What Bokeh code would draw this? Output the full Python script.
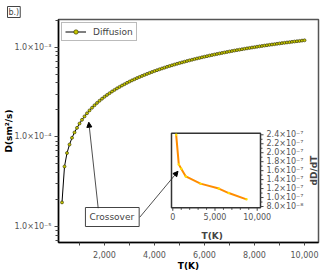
import math
from bokeh.plotting import figure
from bokeh.models import (Range1d, LinearScale, FixedTicker, CustomJSTickFormatter,
                          NumeralTickFormatter, Label, Arrow, NormalHead)
from bokeh.core.properties import value
from bokeh.embed import file_html
from bokeh.resources import INLINE

# ---------------- data ----------------
T = [300, 400, 500, 600, 700, 800, 900, 1000, 1100, 1200, 1300, 1400, 1500, 1600, 1700,
     1800, 1900, 2000, 2100, 2200, 2300, 2400, 2500, 2600, 2700, 2800, 2900, 3000, 3100,
     3200, 3300, 3400, 3500, 3600, 3700, 3800, 3900, 4000, 4100, 4200, 4300, 4400, 4500,
     4600, 4700, 4800, 4900, 5000, 5100, 5200, 5300, 5400, 5500, 5600, 5700, 5800, 5900,
     6000, 6100, 6200, 6300, 6400, 6500, 6600, 6700, 6800, 6900, 7000, 7100, 7200, 7300,
     7400, 7500, 7600, 7700, 7800, 7900, 8000, 8100, 8200, 8300, 8400, 8500, 8600, 8700,
     8800, 8900, 9000, 9100, 9200, 9300, 9400, 9500, 9600, 9700, 9800, 9900, 10000]
# diffusion coefficient in units of 1e-4
D_e4 = [0.186, 0.468, 0.661, 0.822, 0.977, 1.122, 1.262, 1.410, 1.552, 1.694, 1.835, 1.975,
        2.115, 2.254, 2.392, 2.530, 2.667, 2.803, 2.939, 3.075, 3.210, 3.345, 3.479, 3.613,
        3.746, 3.878, 4.010, 4.141, 4.272, 4.402, 4.532, 4.661, 4.790, 4.918, 5.046, 5.173,
        5.300, 5.426, 5.552, 5.677, 5.802, 5.926, 6.050, 6.173, 6.296, 6.418, 6.540, 6.661,
        6.782, 6.902, 7.022, 7.141, 7.260, 7.378, 7.496, 7.613, 7.730, 7.846, 7.961, 8.076,
        8.190, 8.304, 8.417, 8.529, 8.641, 8.752, 8.862, 8.972, 9.081, 9.189, 9.297, 9.404,
        9.510, 9.616, 9.721, 9.825, 9.929, 10.032, 10.134, 10.236, 10.337, 10.437, 10.537,
        10.636, 10.734, 10.832, 10.929, 11.025, 11.121, 11.216, 11.310, 11.404, 11.497,
        11.589, 11.681, 11.772, 11.863, 11.953]
D = [v * 1e-4 for v in D_e4]

T_inset = [400, 710, 1000, 1540, 3280, 5450, 6630, 8730]
dDdT = [2.40e-7, 1.74e-7, 1.645e-7, 1.47e-7, 1.31e-7, 1.20e-7, 1.10e-7, 0.96e-7]

x_ticks = [2000, 4000, 6000, 8000, 10000]
x_minor = [1000, 3000, 5000, 7000, 9000]
y_ticks = [1e-5, 1e-4, 1e-3]
inset_x_ticks = [0, 5000, 10000]
inset_x_minor = [1000, 2000, 3000, 4000, 6000, 7000, 8000, 9000]
inset_y_ticks = [8.0e-8, 1.0e-7, 1.2e-7, 1.4e-7, 1.6e-7, 1.8e-7, 2.0e-7, 2.2e-7, 2.4e-7]
inset_y_minor = [9.0e-8, 1.1e-7, 1.3e-7, 1.5e-7, 1.7e-7, 1.9e-7, 2.1e-7, 2.3e-7]

FONT = "DejaVu Sans"

# ---------------- layout ----------------
FW, FH = 260, 223          # frame size
p = figure(width=333, height=279, x_range=Range1d(160, 10560),
           y_range=Range1d(6.64e-6, 2.04e-3), y_axis_type="log",
           output_backend="svg", toolbar_location=None,
           x_axis_label="T(K)", y_axis_label="D(sm\u00b2/s)",
           min_border_left=58, min_border_right=15, min_border_top=19, min_border_bottom=37)
p.grid.visible = False
p.outline_line_color = "#555555"
p.outline_line_width = 1.5
p.background_fill_color = "white"
p.border_fill_color = "white"

# panel tag "b.)" as a boxed title in the top-left corner
p.title.text = "b.)"
p.title.align = "left"
p.title.offset = -51
p.title.standoff = 4
p.title.text_font = FONT
p.title.text_font_size = "8px"
p.title.text_font_style = "normal"
p.title.border_line_color = "#444444"
p.title.background_fill_color = "white"
p.title.padding = 1

# axes
p.xaxis.ticker = FixedTicker(ticks=x_ticks, minor_ticks=x_minor)
p.xaxis.formatter = NumeralTickFormatter(format="0,0")
minor_y = [m * 10.0 ** e for e in (-6, -5, -4, -3) for m in range(2, 10)]
p.yaxis.ticker = FixedTicker(ticks=y_ticks, minor_ticks=minor_y)
p.yaxis.formatter = CustomJSTickFormatter(code="""
const e = Math.round(Math.log10(tick));
const m = {'-':'\u207b','0':'\u2070','1':'\u00b9','2':'\u00b2','3':'\u00b3','4':'\u2074',
           '5':'\u2075','6':'\u2076','7':'\u2077','8':'\u2078','9':'\u2079'};
return '1.0\u00d710' + String(e).split('').map(c => m[c]).join('');
""")
for ax in (p.xaxis[0], p.yaxis[0]):
    ax.axis_line_color = "black"
    ax.axis_line_width = 1.5
    ax.major_tick_line_color = "#444444"
    ax.minor_tick_line_color = "#444444"
    ax.major_tick_in = 0
    ax.minor_tick_in = 0
    ax.major_label_text_font = FONT
    ax.major_label_text_font_size = "8px"
    ax.major_label_text_color = "#555555"
    ax.axis_label_text_font = FONT
    ax.axis_label_text_font_size = "9px"
    ax.axis_label_text_font_style = "bold"
    ax.axis_label_text_color = "black"
    ax.axis_label_standoff = 0
p.yaxis.axis_label_standoff = -3
p.xaxis.major_tick_out = 3
p.xaxis.minor_tick_out = 3
p.xaxis.major_label_standoff = 5
p.yaxis.major_tick_out = 4
p.yaxis.minor_tick_out = 3
p.yaxis.major_label_standoff = 3

# main series
p.line(T, D, line_color="black", line_width=1, legend_label="Diffusion")
p.scatter(T, D, size=3, fill_color="#c8c800", line_color="#2a2a00", line_width=0.6,
          legend_label="Diffusion")

lg = p.legend[0]
lg.location = "top_left"
lg.margin = 3
lg.padding = 3
lg.spacing = 0
lg.glyph_width = 21
lg.glyph_height = 11
lg.label_height = 11
lg.label_standoff = 7
lg.label_text_font = FONT
lg.label_text_font_size = "9px"
lg.border_line_color = "#777777"
lg.border_line_width = 1
lg.background_fill_alpha = 1

# ---------------- inset (own ranges mapped into a sub-box of the frame) ----------------
box_l, box_r, box_t, box_b = 113, 202, 113.7, 188.3   # frame px (from top-left)
ix0, ix1 = -154, 10391
iy0, iy1 = 7.71e-8, 2.4357e-7
kx = (ix1 - ix0) / (box_r - box_l)
ky = (iy1 - iy0) / (box_b - box_t)
p.extra_x_ranges = {"ix": Range1d(ix0 - box_l * kx, ix1 + (FW - box_r) * kx)}
p.extra_y_ranges = {"iy": Range1d(iy0 - (FH - box_b) * ky, iy1 + box_t * ky)}
p.extra_y_scales = {"iy": LinearScale()}
R = dict(x_range_name="ix", y_range_name="iy")

p.quad(left=ix0, right=ix1, bottom=iy0, top=iy1, fill_color="white",
       line_color="#333333", line_width=1.5, **R)
# inset ticks
p.segment(x0=inset_x_ticks, x1=inset_x_ticks, y0=[iy0] * 3, y1=[iy0 - 3 * ky] * 3,
          line_color="#444444", line_width=1, **R)
p.segment(x0=inset_x_minor, x1=inset_x_minor, y0=[iy0] * len(inset_x_minor),
          y1=[iy0 - 2 * ky] * len(inset_x_minor), line_color="#444444", line_width=1, **R)
p.segment(x0=[ix1] * len(inset_y_ticks), x1=[ix1 + 3 * kx] * len(inset_y_ticks),
          y0=inset_y_ticks, y1=inset_y_ticks, line_color="#444444", line_width=1, **R)
p.segment(x0=[ix1] * len(inset_y_minor), x1=[ix1 + 2 * kx] * len(inset_y_minor),
          y0=inset_y_minor, y1=inset_y_minor, line_color="#444444", line_width=1, **R)

SUP = str.maketrans("-0123456789", "\u207b\u2070\u00b9\u00b2\u00b3\u2074\u2075\u2076\u2077\u2078\u2079")
def sci(v):
    e = math.floor(math.log10(v) + 1e-9)
    return f"{v / 10 ** e:.1f}\u00d710" + str(e).translate(SUP)

p.text(x=inset_x_ticks, y=[iy0 - 5 * ky] * 3, text=[f"{t:,}" for t in inset_x_ticks],
       text_font=value(FONT), text_font_size="8px", text_color="#555555",
       text_align="center", text_baseline="top", **R)
p.text(x=[ix1 + 6 * kx] * len(inset_y_ticks), y=inset_y_ticks,
       text=[sci(v) for v in inset_y_ticks], text_font=value(FONT), text_font_size="8px",
       text_color="#555555", text_align="left", text_baseline="middle", **R)

p.line(T_inset, dDdT, line_color="#ff8c00", line_width=2, **R)
p.scatter(T_inset, dDdT, size=2.5, fill_color="#ffe000", line_color=None, **R)

# ---------------- labels & annotations (screen px relative to frame bottom-left) ----------------
def lab(x, y, text, size="9px", bold=True, angle=0.0, **kw):
    p.add_layout(Label(x=x, y=y, x_units="screen", y_units="screen", text=text,
                       text_font=FONT, text_font_size=size,
                       text_font_style="bold" if bold else "normal",
                       text_align="center", text_baseline="middle", angle=angle, **kw))

lab(153.7, 7, "T(K)")
lab(255, 72, "dD/dT", angle=math.pi / 2)
lab(53.8, 25.5, "Crossover", bold=False, border_line_color="#444444",
    background_fill_color="white", padding=(4, 5, 4, 5))

for (xs, ys, xe, ye) in [(39.7, 34.3, 30.3, 120.3), (81.3, 25.3, 119.5, 71.2)]:
    p.add_layout(Arrow(x_start=xs, y_start=ys, x_end=xe, y_end=ye,
                       start_units="screen", end_units="screen",
                       line_color="#222222", line_width=0.8,
                       end=NormalHead(size=5, fill_color="black", line_color="black")))

open("out.html", "w").write(file_html(p, INLINE))
